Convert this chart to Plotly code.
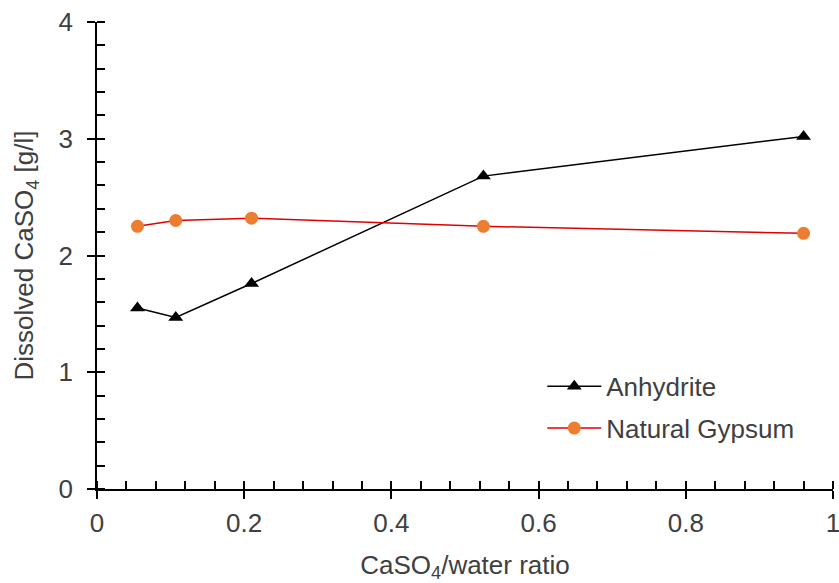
import plotly.graph_objects as go

ratio_anh = [0.055, 0.107, 0.21, 0.525, 0.96]
anhydrite = [1.55, 1.47, 1.76, 2.68, 3.02]
ratio_gyp = [0.055, 0.107, 0.21, 0.525, 0.96]
gypsum = [2.25, 2.30, 2.32, 2.25, 2.19]

x_ticks = [0, 0.2, 0.4, 0.6, 0.8, 1]
x_labels = ["0", "0.2", "0.4", "0.6", "0.8", "1"]
y_ticks = [0, 1, 2, 3, 4]
y_labels = ["0", "1", "2", "3", "4"]

FONT = "Liberation Sans, Arial, sans-serif"
TXT = "#404040"
FS = 26

fig = go.Figure()
fig.add_trace(go.Scatter(
    x=ratio_anh, y=anhydrite, name="Anhydrite", mode="lines+markers",
    legendgroup="a",
    line=dict(color="black", width=1.5),
    marker=dict(symbol="triangle-up", size=13, color="black"),
))
fig.add_trace(go.Scatter(
    x=ratio_gyp, y=gypsum, name="Natural Gypsum", mode="lines+markers",
    legendgroup="b",
    line=dict(color="#E00000", width=1.5),
    marker=dict(symbol="circle", size=13, color="#ED7D31"),
))
# invisible trace on overlay axes so inward major ticks are drawn
fig.add_trace(go.Scatter(x=[None], y=[None], xaxis="x2", yaxis="y2",
                         showlegend=False, hoverinfo="skip"))

axis_common = dict(showgrid=False, zeroline=False, showline=True,
                   linecolor="black", linewidth=1.5, tickcolor="black",
                   tickwidth=1.5, ticklen=8, automargin=False,
                   tickfont=dict(family=FONT, size=FS, color=TXT))

fig.update_layout(
    width=839, height=583,
    margin=dict(l=97, r=6, t=22, b=94),
    plot_bgcolor="white", paper_bgcolor="white",
    showlegend=True,
    legend=dict(x=0.605, y=0.27, xanchor="left", yanchor="top",
                bgcolor="rgba(0,0,0,0)", borderwidth=0,
                font=dict(family=FONT, size=FS, color=TXT),
                itemwidth=54, traceorder="grouped", tracegroupgap=5),
    xaxis=dict(range=[0, 1], tickvals=x_ticks, ticktext=x_labels,
               ticks="outside", ticklabelstandoff=2,
               ticklabeloverflow="allow",
               minor=dict(dtick=0.04, ticks="inside", ticklen=8,
                          tickcolor="black", tickwidth=1.5),
               title=dict(text="CaSO<sub>4</sub>/water ratio",
                          font=dict(family=FONT, size=FS, color=TXT),
                          standoff=19),
               **axis_common),
    yaxis=dict(range=[0, 4], tickvals=y_ticks, ticktext=y_labels,
               ticks="outside", ticklabelstandoff=9,
               minor=dict(dtick=0.2, ticks="inside", ticklen=8,
                          tickcolor="black", tickwidth=1.5),
               title=dict(text="Dissolved CaSO<sub>4</sub> [g/l]",
                          font=dict(family=FONT, size=FS, color=TXT),
                          standoff=17),
               **axis_common),
    xaxis2=dict(overlaying="x", range=[0, 1], tickvals=x_ticks,
                showticklabels=False, ticks="inside", ticklen=8,
                tickcolor="black", tickwidth=1.5, showgrid=False,
                zeroline=False, showline=False, anchor="y2",
                automargin=False),
    yaxis2=dict(overlaying="y", range=[0, 4], tickvals=y_ticks,
                showticklabels=False, ticks="inside", ticklen=8,
                tickcolor="black", tickwidth=1.5, showgrid=False,
                zeroline=False, showline=False, anchor="x2",
                automargin=False),
)

fig.write_html("out.html")
